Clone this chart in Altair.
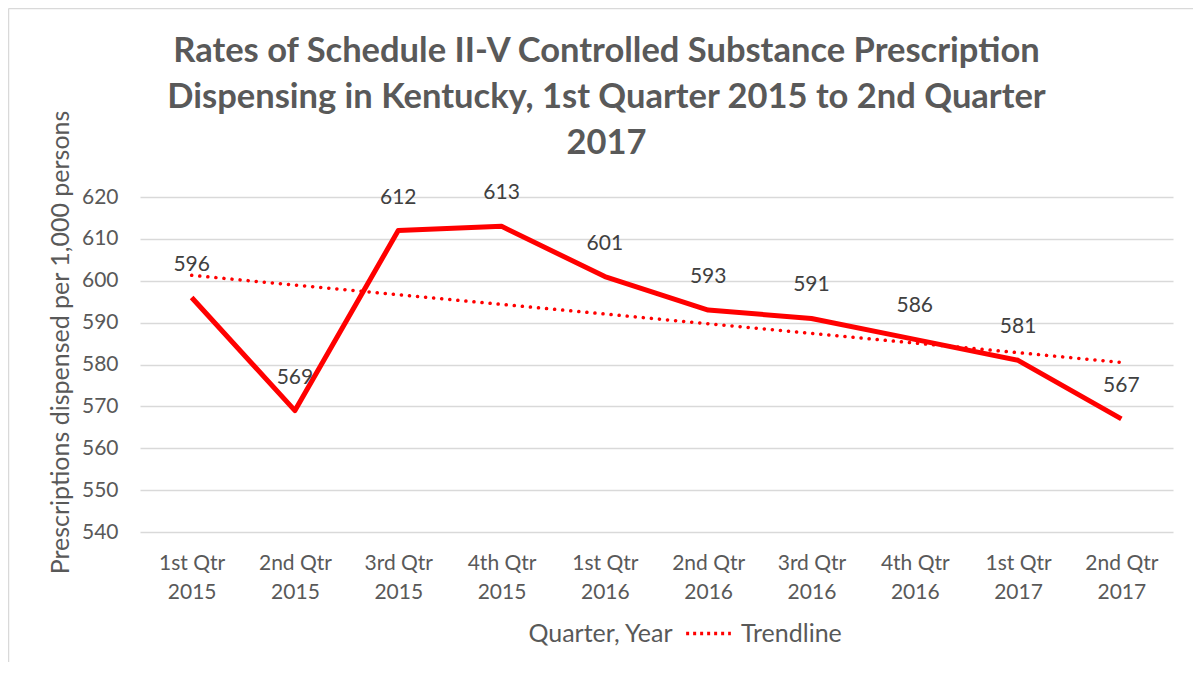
import altair as alt
import pandas as pd

quarters = ["1st Qtr", "2nd Qtr", "3rd Qtr", "4th Qtr", "1st Qtr", "2nd Qtr", "3rd Qtr", "4th Qtr", "1st Qtr", "2nd Qtr"]
years = ["2015", "2015", "2015", "2015", "2016", "2016", "2016", "2016", "2017", "2017"]
values = [596, 569, 612, 613, 601, 593, 591, 586, 581, 567]

df = pd.DataFrame({"idx": list(range(1, len(values) + 1)), "quarter": quarters, "year": years, "value": values})

label_arr = "[" + ",".join("['%s','%s']" % (q, y) for q, y in zip(quarters, years)) + "]"

FONT = "Lato"
GRAY = "#595959"
RED = "#FF0000"

xscale = alt.Scale(domain=[0.5, 10.5], nice=False, zero=False)
yscale = alt.Scale(domain=[540, 620], nice=False, zero=False)

base = alt.Chart(df)

line = base.mark_line(color=RED, strokeWidth=5, strokeJoin="round").encode(
    x=alt.X("idx:Q", scale=xscale, axis=alt.Axis(
        values=list(range(1, 11)), labelExpr=label_arr + "[datum.value - 1]",
        grid=False, ticks=False, domain=False, labelPadding=20, labelLineHeight=29,
        labelFontSize=21, labelColor=GRAY, labelFont=FONT,
        title="Quarter, Year", titleFontSize=25, titleColor=GRAY, titleFont=FONT,
        titleFontWeight="normal", titleX=460, titleY=101, titleBaseline="middle")),
    y=alt.Y("value:Q", scale=yscale, axis=alt.Axis(
        values=list(range(540, 621, 10)), grid=True, gridColor="#d9d9d9", gridWidth=1.3,
        ticks=False, domain=False, labelPadding=22, labelFontSize=21, labelColor=GRAY,
        labelFont=FONT, title="Prescriptions dispensed per 1,000 persons",
        titleFontSize=25, titleColor=GRAY, titleFont=FONT, titleFontWeight="normal",
        titleY=145, titlePadding=8)),
)

labels = base.mark_text(dy=-33, fontSize=21, color="#404040", font=FONT).encode(
    x="idx:Q", y="value:Q", text="value:Q"
)

trend = base.transform_regression("idx", "value", extent=[1, 10]).transform_calculate(
    series="'Trendline'"
).mark_line(
    strokeWidth=3.5, strokeDash=[0.1, 8], strokeCap="round"
).encode(
    x="idx:Q", y="value:Q",
    color=alt.Color("series:N", scale=alt.Scale(range=[RED]), legend=alt.Legend(
        title=None, orient="none", legendX=544, legendY=412, symbolType="stroke",
        symbolDash=[3, 4], symbolStrokeWidth=3.5, symbolSize=2000, labelFontSize=25,
        labelColor=GRAY, labelFont=FONT, labelOffset=8)),
)

border = alt.Chart(pd.DataFrame({"a": [0]})).mark_rule(color="#d9d9d9", strokeWidth=1.5).encode(
    x=alt.value(-131.5), x2=alt.value(-131.5), y=alt.value(-188.5), y2=alt.value(480)
)
border_top = alt.Chart(pd.DataFrame({"a": [0]})).mark_rule(color="#d9d9d9", strokeWidth=1.5).encode(
    x=alt.value(-131.5), x2=alt.value(1070), y=alt.value(-188.5), y2=alt.value(-188.5)
)

chart = alt.layer(border, border_top, line, trend, labels).properties(
    width=1033, height=335,
    autosize=alt.AutoSizeParams(type="none"),
    padding={"left": 132, "top": 189, "right": 20, "bottom": 130},
    title=alt.Title(
        ["Rates of Schedule II-V Controlled Substance Prescription",
         "Dispensing in Kentucky, 1st Quarter 2015 to 2nd Quarter", "2017"],
        fontSize=34.5, font=FONT, fontWeight="bold", color=GRAY, lineHeight=46,
        anchor="middle", frame="group", dx=-50, offset=-154),
).configure_view(stroke=None)

chart.save("out.html", embed_options={"renderer": "svg", "actions": False})
